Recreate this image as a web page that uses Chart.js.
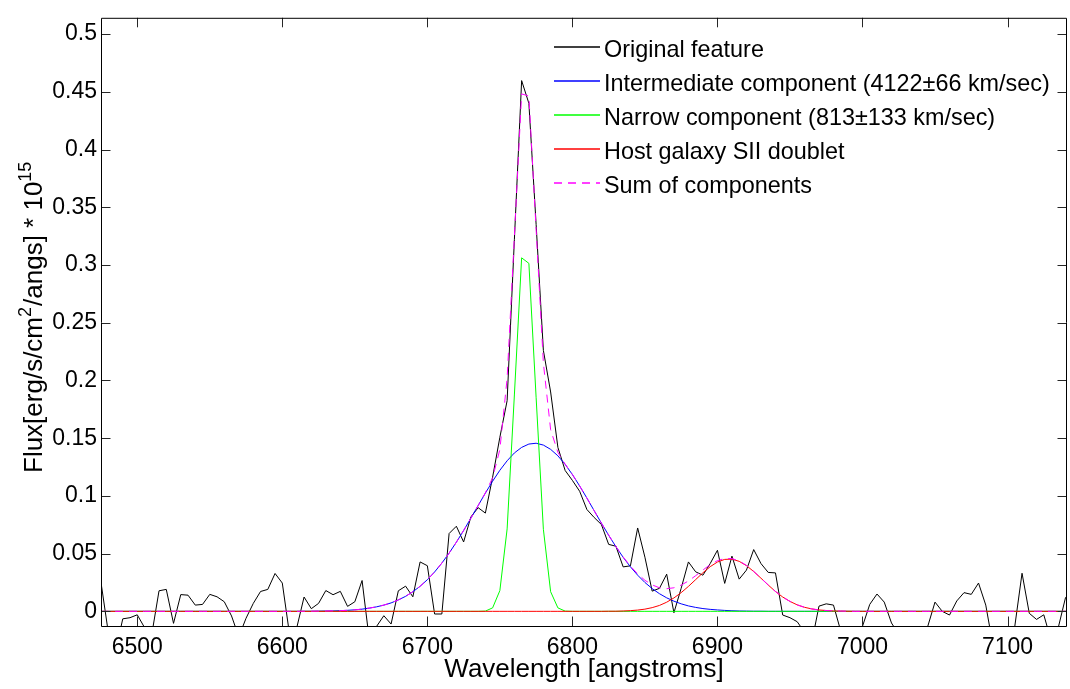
<!DOCTYPE html>
<html>
<head>
<meta charset="utf-8">
<script src="https://cdn.jsdelivr.net/npm/chart.js@4.4.1/dist/chart.umd.min.js"></script>
<style>
  html, body { margin: 0; padding: 0; background: #ffffff; }
  #wrap { width: 1070px; height: 689px; position: relative; }
</style>
</head>
<body>
<div id="wrap"><canvas id="spectrum" width="1070" height="689"></canvas></div>
<script>
// Spectrum sampling: first wavelength and bin width in angstroms
const WAVE_START = 6475;
const WAVE_STEP = 5;

// Observed flux per bin (1e-15 erg/s/cm^2/A)
const flux = [
  0.025, -0.018, -0.035, -0.0065, -0.0055, -0.003, -0.014, -0.02, 0.0178, 0.019,
  -0.0104, 0.0145, 0.014, 0.0054, 0.006, 0.0147, 0.0126, 0.0083, -0.004, -0.022,
  -0.006, 0.0069, 0.0172, 0.019, 0.0328, 0.0245, -0.02, -0.014, 0.0124, 0.0023,
  0.0069, 0.018, 0.0144, 0.0173, 0.0043, 0.0083, 0.0267, -0.025, -0.013, -0.0038,
  -0.011, 0.0178, 0.0218, 0.0126, 0.0428, 0.0395, -0.0023, -0.0023, 0.0674, 0.0737,
  0.0601, 0.0817, 0.0898, 0.0851, 0.1162, 0.1508, 0.1825, 0.322, 0.4597, 0.44,
  0.335, 0.226, 0.19, 0.142, 0.122, 0.1134, 0.104, 0.0882, 0.0813, 0.0752,
  0.058, 0.0564, 0.0385, 0.0394, 0.0722, 0.0469, 0.0175, 0.0199, 0.0322, -0.0012,
  0.02, 0.0428, 0.0342, 0.0313, 0.0414, 0.0529, 0.0242, 0.0478, 0.0279, 0.0357,
  0.0535, 0.0414, 0.0337, 0.0333, -0.0032, -0.0055, -0.009, -0.018, -0.027, 0.0045,
  0.0065, 0.0054, -0.017, -0.025, -0.02, -0.013, 0.006, 0.015, 0.008, -0.0101,
  -0.02, -0.025, -0.02, -0.018, -0.013, 0.008, 0.0, -0.0032, 0.009, 0.0162,
  0.0147, 0.0245, 0.0054, -0.03, -0.03, -0.02, -0.013, 0.033, -0.0017, -0.007,
  -0.003, -0.025, -0.014, 0.012, 0.009
];

// Broad (intermediate-width) emission component
const intermediate = [
  0, 0, 0, 0, 0, 0, 0, 0, 0, 0,
  0, 0, 0, 0, 0, 0, 0, 0, 0, 0,
  0, 0, 0, 0, 0, 0, 0, 0, 0.0001, 0.0001,
  0.0002, 0.0003, 0.0004, 0.0006, 0.0009, 0.0013, 0.0019, 0.0028, 0.0039, 0.0054,
  0.0073, 0.0099, 0.0130, 0.0170, 0.0217, 0.0274, 0.0341, 0.0418, 0.0504, 0.0599,
  0.0700, 0.0807, 0.0916, 0.1024, 0.1127, 0.1222, 0.1304, 0.1372, 0.1420, 0.1449,
  0.1456, 0.1440, 0.1403, 0.1347, 0.1273, 0.1185, 0.1086, 0.0981, 0.0872, 0.0764,
  0.0659, 0.0560, 0.0468, 0.0386, 0.0313, 0.0250, 0.0197, 0.0153, 0.0117, 0.0088,
  0.0065, 0.0047, 0.0034, 0.0024, 0.0017, 0.0012, 0.0008, 0.0005, 0.0003, 0.0002,
  0.0001, 0.0001, 0, 0, 0, 0, 0, 0, 0, 0,
  0, 0, 0, 0, 0, 0, 0, 0, 0, 0,
  0, 0, 0, 0, 0, 0, 0, 0, 0, 0,
  0, 0, 0, 0, 0, 0, 0, 0, 0, 0,
  0, 0, 0, 0, 0
];

// Narrow emission component
const narrow = [
  0, 0, 0, 0, 0, 0, 0, 0, 0, 0,
  0, 0, 0, 0, 0, 0, 0, 0, 0, 0,
  0, 0, 0, 0, 0, 0, 0, 0, 0, 0,
  0, 0, 0, 0, 0, 0, 0, 0, 0, 0,
  0, 0, 0, 0, 0, 0, 0, 0, 0, 0,
  0, 0, 0, 0.0002, 0.003, 0.018, 0.0714, 0.1874, 0.3062, 0.3014,
  0.185, 0.071, 0.017, 0.003, 0.0002, 0, 0, 0, 0, 0,
  0, 0, 0, 0, 0, 0, 0, 0, 0, 0,
  0, 0, 0, 0, 0, 0, 0, 0, 0, 0,
  0, 0, 0, 0, 0, 0, 0, 0, 0, 0,
  0, 0, 0, 0, 0, 0, 0, 0, 0, 0,
  0, 0, 0, 0, 0, 0, 0, 0, 0, 0,
  0, 0, 0, 0, 0, 0, 0, 0, 0, 0,
  0, 0, 0, 0, 0
];

// Host galaxy [S II] doublet
const hostSII = [
  0, 0, 0, 0, 0, 0, 0, 0, 0, 0,
  0, 0, 0, 0, 0, 0, 0, 0, 0, 0,
  0, 0, 0, 0, 0, 0, 0, 0, 0, 0,
  0, 0, 0, 0, 0, 0, 0, 0, 0, 0,
  0, 0, 0, 0, 0, 0, 0, 0, 0, 0,
  0, 0, 0, 0, 0, 0, 0, 0, 0, 0,
  0, 0, 0, 0, 0, 0, 0, 0, 0, 0,
  0.0001, 0.0001, 0.0003, 0.0006, 0.0011, 0.0019, 0.0032, 0.0051, 0.0079, 0.0116,
  0.0162, 0.0216, 0.0275, 0.0334, 0.0387, 0.0427, 0.0450, 0.0452, 0.0433, 0.0396,
  0.0345, 0.0287, 0.0228, 0.0172, 0.0124, 0.0086, 0.0056, 0.0035, 0.0021, 0.0012,
  0.0007, 0.0003, 0.0002, 0.0001, 0, 0, 0, 0, 0, 0,
  0, 0, 0, 0, 0, 0, 0, 0, 0, 0,
  0, 0, 0, 0, 0, 0, 0, 0, 0, 0,
  0, 0, 0, 0, 0
];

// Total fitted model
const componentSum = [
  0, 0, 0, 0, 0, 0, 0, 0, 0, 0,
  0, 0, 0, 0, 0, 0, 0, 0, 0, 0,
  0, 0, 0, 0, 0, 0, 0, 0, 0.0001, 0.0001,
  0.0002, 0.0003, 0.0004, 0.0006, 0.0009, 0.0013, 0.0019, 0.0028, 0.0039, 0.0054,
  0.0073, 0.0099, 0.0130, 0.0170, 0.0217, 0.0274, 0.0341, 0.0418, 0.0504, 0.0599,
  0.0700, 0.0807, 0.0916, 0.1026, 0.1157, 0.1402, 0.2018, 0.3246, 0.4482, 0.4463,
  0.3306, 0.2150, 0.1573, 0.1377, 0.1275, 0.1185, 0.1086, 0.0981, 0.0872, 0.0764,
  0.0660, 0.0561, 0.0471, 0.0392, 0.0324, 0.0269, 0.0229, 0.0204, 0.0196, 0.0204,
  0.0227, 0.0263, 0.0309, 0.0358, 0.0404, 0.0439, 0.0458, 0.0457, 0.0436, 0.0398,
  0.0346, 0.0288, 0.0228, 0.0172, 0.0124, 0.0086, 0.0056, 0.0035, 0.0021, 0.0012,
  0.0007, 0.0003, 0.0002, 0.0001, 0, 0, 0, 0, 0, 0,
  0, 0, 0, 0, 0, 0, 0, 0, 0, 0,
  0, 0, 0, 0, 0, 0, 0, 0, 0, 0,
  0, 0, 0, 0, 0
];

// Axis ticks
const xTicks = [6500, 6600, 6700, 6800, 6900, 7000, 7100];
const yTicks = [0, 0.05, 0.1, 0.15, 0.2, 0.25, 0.3, 0.35, 0.4, 0.45, 0.5];
const yTickLabels = ['0', '0.05', '0.1', '0.15', '0.2', '0.25', '0.3', '0.35', '0.4', '0.45', '0.5'];

// Series names and colours, in legend order
const seriesNames = [
  'Original feature',
  'Intermediate component (4122\u00b166 km/sec)',
  'Narrow component (813\u00b1133 km/sec)',
  'Host galaxy SII doublet',
  'Sum of components'
];
const seriesColors = ['#000000', '#0000ff', '#00ff00', '#ff0000', '#ff00ff'];
const seriesValues = [flux, intermediate, narrow, hostSII, componentSum];
const SUM_DASH = [8, 6];

const FONT = "'Liberation Sans', Arial, Helvetica, sans-serif";
const wavelengths = flux.map((_, i) => WAVE_START + i * WAVE_STEP);

const datasets = seriesValues.map((vals, s) => ({
  label: seriesNames[s],
  data: vals.map((v, i) => ({ x: wavelengths[i], y: v })),
  borderColor: seriesColors[s],
  backgroundColor: seriesColors[s],
  borderWidth: 1,
  borderDash: s === 4 ? SUM_DASH : [],
  pointRadius: 0,
  tension: 0,
  fill: false,
  // later series sit on top of earlier ones
  order: seriesValues.length - s
}));

// Framed box with inward tick marks on all four sides
const frameTicks = {
  id: 'frameTicks',
  afterDatasetsDraw(chart) {
    const { ctx, chartArea: a, scales: { x, y } } = chart;
    const len = 9.5;
    ctx.save();
    ctx.strokeStyle = '#262626';
    ctx.lineWidth = 1;
    ctx.beginPath();
    xTicks.forEach(v => {
      const px = Math.round(x.getPixelForValue(v)) + 0.5;
      ctx.moveTo(px, a.bottom); ctx.lineTo(px, a.bottom - len);
      ctx.moveTo(px, a.top); ctx.lineTo(px, a.top + len);
    });
    yTicks.forEach(v => {
      const py = Math.round(y.getPixelForValue(v)) + 0.5;
      ctx.moveTo(a.left, py); ctx.lineTo(a.left + len, py);
      ctx.moveTo(a.right, py); ctx.lineTo(a.right - len, py);
    });
    ctx.stroke();
    ctx.strokeStyle = '#000000';
    ctx.beginPath();
    ctx.rect(a.left + 0.5, a.top + 0.5, a.right - a.left - 1, a.bottom - a.top);
    ctx.stroke();
    ctx.restore();
  }
};

// Legend drawn inside the plot, top right, without a box
const insideLegend = {
  id: 'insideLegend',
  afterDraw(chart) {
    const { ctx } = chart;
    const lineX0 = 554, lineX1 = 600, textX = 604, firstRow = 46.5, rowStep = 34.2;
    ctx.save();
    ctx.font = '23.4px ' + FONT;
    ctx.textAlign = 'left';
    ctx.textBaseline = 'alphabetic';
    seriesNames.forEach((name, i) => {
      const yRow = Math.round(firstRow + i * rowStep);
      ctx.strokeStyle = seriesColors[i];
      ctx.lineWidth = 1.6;
      ctx.setLineDash(i === 4 ? SUM_DASH : []);
      ctx.beginPath();
      ctx.moveTo(lineX0, yRow);
      ctx.lineTo(lineX1, yRow);
      ctx.stroke();
      ctx.setLineDash([]);
      ctx.fillStyle = '#000000';
      ctx.fillText(name, textX, yRow + 10);
    });
    ctx.restore();
  }
};

// Vertical flux label with superscripts
const fluxTitle = {
  id: 'fluxTitle',
  afterDraw(chart) {
    const { ctx } = chart;
    const parts = [
      ['Flux[erg/s/cm', false],
      ['2', true],
      ['/angs] * 10', false],
      ['15', true]
    ];
    const mainFont = '26px ' + FONT, supFont = '18px ' + FONT;
    ctx.save();
    ctx.translate(42, 473);
    ctx.rotate(-Math.PI / 2);
    ctx.fillStyle = '#000000';
    ctx.textAlign = 'left';
    ctx.textBaseline = 'alphabetic';
    let cx = 0;
    parts.forEach(([t, sup]) => {
      ctx.font = sup ? supFont : mainFont;
      ctx.fillText(t, cx, sup ? -11 : 0);
      cx += ctx.measureText(t).width + (sup ? 1 : 0);
    });
    ctx.restore();
  }
};

new Chart(document.getElementById('spectrum'), {
  type: 'line',
  data: { datasets },
  options: {
    responsive: false,
    animation: false,
    events: [],
    layout: { padding: { left: 0, right: 3, top: 16, bottom: 0 } },
    plugins: { legend: { display: false }, tooltip: { enabled: false } },
    scales: {
      x: {
        type: 'linear',
        min: 6475,
        max: 7141,
        grid: { display: false, drawTicks: false },
        border: { display: false },
        afterBuildTicks: s => { s.ticks = xTicks.map(v => ({ value: v })); },
        afterFit: s => { s.height = 63; },
        ticks: {
          font: { family: FONT, size: 23 },
          color: '#000000',
          padding: 8,
          maxRotation: 0,
          autoSkip: false,
          callback: v => String(v)
        },
        title: {
          display: true,
          text: 'Wavelength [angstroms]',
          color: '#000000',
          font: { family: FONT, size: 26 },
          padding: { top: 0, bottom: 4 }
        }
      },
      y: {
        type: 'linear',
        min: -0.0127,
        max: 0.5141,
        grid: { display: false, drawTicks: false },
        border: { display: false },
        afterBuildTicks: s => { s.ticks = yTicks.map(v => ({ value: v })); },
        afterFit: s => { s.width = 101; },
        ticks: {
          font: { family: FONT, size: 23 },
          color: '#000000',
          padding: 4,
          autoSkip: false,
          callback: (v, i) => yTickLabels[i]
        }
      }
    }
  },
  plugins: [frameTicks, insideLegend, fluxTitle]
});
</script>
</body>
</html>
